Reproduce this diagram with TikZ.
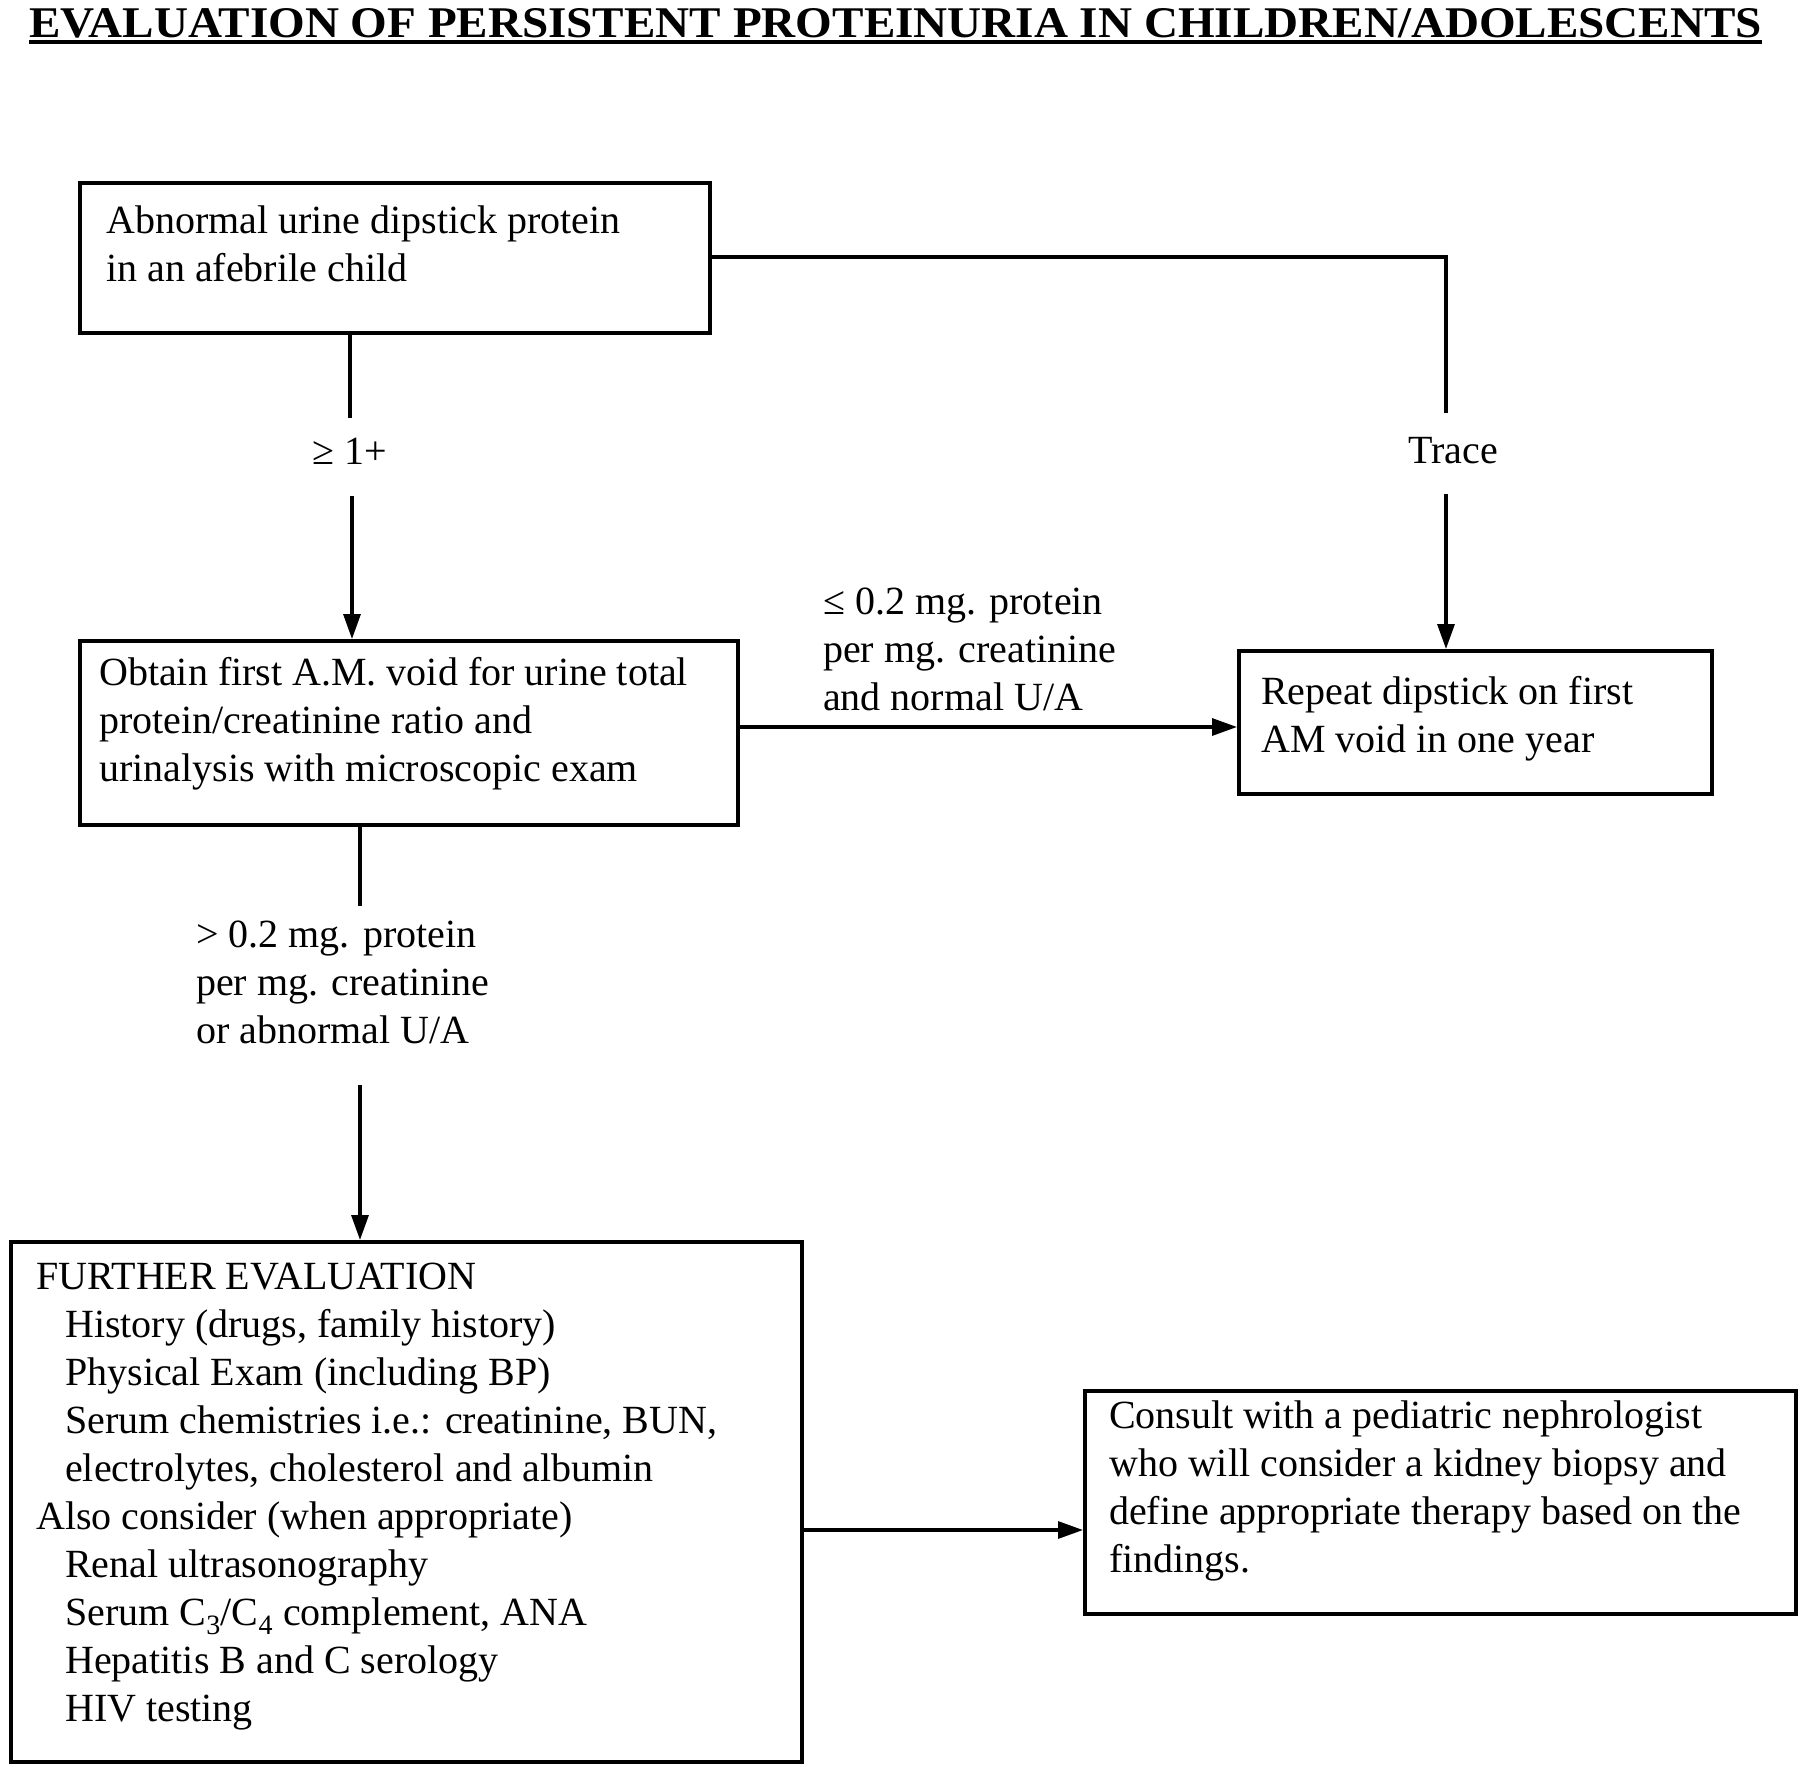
\documentclass[tikz,border=0pt]{standalone}
\usepackage{fontspec}
\setmainfont{Liberation Serif}
\usetikzlibrary{arrows.meta}
\newcommand{\ind}{\hspace*{29pt}}
\begin{document}
\begin{tikzpicture}[x=1pt,y=-1pt,
  box/.style={draw, line width=4pt, inner sep=0pt, anchor=north west},
  txt/.style={anchor=base west, inner sep=0pt, font=\fontsize{40}{48}\selectfont},
  lab/.style={anchor=base, inner sep=0pt, font=\fontsize{40}{48}\selectfont},
  conn/.style={line width=3.2pt},
  arr/.style={conn, -{Triangle[length=25pt,width=17pt]}}]
\useasboundingbox (0,0) rectangle (1800,1767);
\fill[white] (0,0) rectangle (1800,1767);

% title
\node[anchor=base west, inner sep=0pt] (title) at (29,37)
  {\resizebox{1733pt}{29pt}{\bfseries EVALUATION OF PERSISTENT PROTEINURIA IN CHILDREN/ADOLESCENTS}};
\draw[line width=4pt] ([yshift=-5pt]title.base west) -- ([yshift=-5pt]title.base east);

% boxes
\node[box, minimum width=630pt, minimum height=150pt] (b1) at (78,181) {};
\node[box, minimum width=658pt, minimum height=184pt] (b2) at (78,639) {};
\node[box, minimum width=473pt, minimum height=143pt] (b3) at (1237,649) {};
\node[box, minimum width=791pt, minimum height=520pt] (b4) at (9,1240) {};
\node[box, minimum width=711pt, minimum height=223pt] (b5) at (1083,1389) {};

% box texts
\node[txt] (t1) at (106,233) {\begin{tabular}[t]{@{}l@{}}Abnormal urine dipstick protein\\in an afebrile child\end{tabular}};
\node[txt] (t2) at (99,685) {\begin{tabular}[t]{@{}l@{}}Obtain first A.M. void for urine total\\protein/creatinine ratio and\\urinalysis with microscopic exam\end{tabular}};
\node[txt] (t3) at (1261,704) {\begin{tabular}[t]{@{}l@{}}Repeat dipstick on first\\AM void in one year\end{tabular}};
\node[txt] (t4) at (36,1289) {\begin{tabular}[t]{@{}l@{}}FURTHER EVALUATION\\
\ind History (drugs, family history)\\
\ind Physical Exam (including BP)\\
\ind Serum chemistries i.e.: creatinine, BUN,\\
\ind electrolytes, cholesterol and albumin\\
Also consider (when appropriate)\\
\ind Renal ultrasonography\\
\ind Serum C\textsubscript{3}/C\textsubscript{4} complement, ANA\\
\ind Hepatitis B and C serology\\
\ind HIV testing\end{tabular}};
\node[txt] (t5) at (1109,1428) {\begin{tabular}[t]{@{}l@{}}Consult with a pediatric nephrologist\\who will consider a kidney biopsy and\\define appropriate therapy based on the\\findings.\end{tabular}};

% connector labels
\node[lab] (l1) at (350,464) {≥ 1+};
\node[lab] (l2) at (1453,463) {Trace};
\node[txt] (l3) at (823,614) {\begin{tabular}[t]{@{}l@{}}≤ 0.2 mg. protein\\per mg. creatinine\\and normal U/A\end{tabular}};
\node[txt] (l4) at (196,947) {\begin{tabular}[t]{@{}l@{}}> 0.2 mg. protein\\per mg. creatinine\\or abnormal U/A\end{tabular}};

% connector coordinates
\coordinate (c1a) at (350,418);
\coordinate (c1b) at (352,496);
\coordinate (c2) at (1446,257);
\coordinate (c2a) at (1446,413);
\coordinate (c2b) at (1446,494);
\coordinate (ya) at (0,727);
\coordinate (c3a) at (360,906);
\coordinate (c3b) at (360,1085);
\coordinate (yb) at (0,1530);

% connectors
\draw[conn] (b1.south -| c1a) -- (c1a);
\draw[arr] (c1b) -- (b2.north -| c1b);
\draw[conn] (b1.east |- c2) -- (c2) -- (c2a);
\draw[arr] (c2b) -- (b3.north -| c2b);
\draw[arr] (b2.east |- ya) -- (b3.west |- ya);
\draw[conn] (b2.south -| c3a) -- (c3a);
\draw[arr] (c3b) -- (b4.north -| c3b);
\draw[arr] (b4.east |- yb) -- (b5.west |- yb);
\end{tikzpicture}
\end{document}
